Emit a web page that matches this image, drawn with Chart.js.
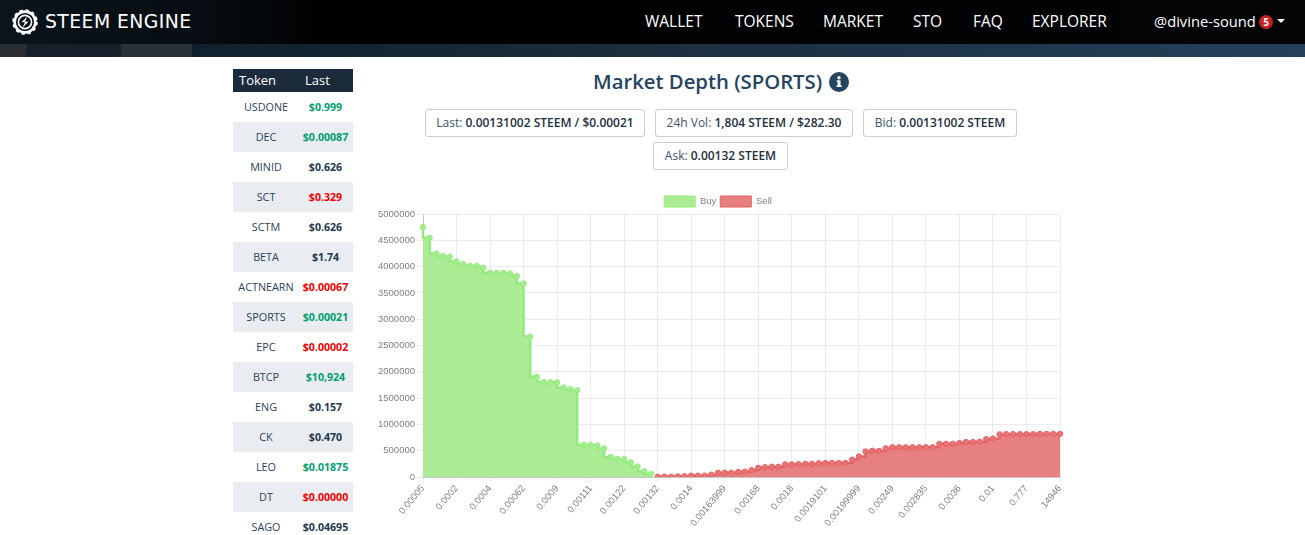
<!DOCTYPE html>
<html><head><meta charset="utf-8">
<script src="https://cdn.jsdelivr.net/npm/chart.js@4"></script>
<style>
html,body{margin:0;padding:0;background:#fff;width:1305px;height:535px;overflow:hidden;font-family:"Open Sans",sans-serif}
.abs{position:absolute;white-space:nowrap}
#hdrBand{position:absolute;left:0;top:44px;width:1305px;height:13px;background:linear-gradient(90deg,#0f1b24 0,#10202c 192px,#1a2e3e 640px,#24405a 1305px)}
#hdrBandL{position:absolute;left:0;top:44px;width:192px;height:13px;background:linear-gradient(90deg,#2a2e32 0,#2a2e32 26px,#15202a 27px,#15202a 120px,#2a3239 122px,#2a3239 192px)}
#hdr{position:absolute;left:0;top:0;width:1305px;height:44px;background:linear-gradient(90deg,#0a141b 0,#070d12 200px,#000 330px,#020406 1305px)}
.nav{position:absolute;top:11px;color:#fff;font-size:15.5px;line-height:20px;white-space:nowrap}
#brand{position:absolute;left:45px;top:9px;color:#fff;font:400 18.8px/26px "DejaVu Sans",sans-serif;letter-spacing:.45px}
#badge{position:absolute;left:1259px;top:15px;width:14px;height:14px;border-radius:7px;background:#c6201f;color:#fff;font-size:10px;font-weight:700;line-height:14px;text-align:center}
#caret{position:absolute;left:1277px;top:19px;width:0;height:0;border-left:4px solid transparent;border-right:4px solid transparent;border-top:4px solid #fff}
#side{position:absolute;left:233px;top:69px;width:120px}
#sideHead{height:23px;background:#1b2b3b;color:#fff;font-size:13px;line-height:23px;position:relative}
#sideHead span{position:absolute;top:0}
.row{height:30px;position:relative;line-height:30px}
.row .t{position:absolute;left:0;width:66px;text-align:center;color:#2c4258;font-size:10.8px}
.row .p{position:absolute;left:67px;width:51px;text-align:center;font-weight:700;font-size:10.6px}
#title{position:absolute;left:593px;top:66px;font-size:20.3px;line-height:30px;font-weight:600;color:#24445f;white-space:nowrap}
#info{position:absolute;left:829px;top:72px;width:20px;height:20px}
.pill{position:absolute;height:26px;border:1px solid #c9ced2;border-radius:3px;box-sizing:content-box;font-size:12px;line-height:26px;text-align:center;color:#3b5268;white-space:nowrap;background:#fff}
.pill b{font-weight:600;color:#22303c}
#cv{position:absolute;left:375px;top:190px}
</style></head>
<body>
<div id="hdrBand"></div><div id="hdrBandL"></div><div id="hdr"></div>
<svg class="abs" style="left:12px;top:9px" width="26" height="26" viewBox="0 0 26 26">
<circle cx="13" cy="13" r="10.4" fill="none" stroke="#fff" stroke-width="2.6"/>
<circle cx="13" cy="13" r="11.6" fill="none" stroke="#fff" stroke-width="2.4" stroke-dasharray="3.2 2.9"/>
<circle cx="13" cy="13" r="6.6" fill="none" stroke="#fff" stroke-width="1.6"/>
<path d="M15.5 7.5 L9.5 13 L13 13.2 L10.5 18.5 L16.5 12.8 L13 12.6 Z" fill="#fff"/>
</svg>
<div id="brand">STEEM ENGINE</div>
<div class="nav" style="left:645px">WALLET</div>
<div class="nav" style="left:735px">TOKENS</div>
<div class="nav" style="left:823px">MARKET</div>
<div class="nav" style="left:913px">STO</div>
<div class="nav" style="left:973px">FAQ</div>
<div class="nav" style="left:1032px">EXPLORER</div>
<div class="nav" style="left:1154px;font-size:14.7px">@divine-sound</div>
<div id="badge">5</div><div id="caret"></div>

<div id="side"><div id="sideHead"><span style="left:6px">Token</span><span style="left:72px">Last</span></div><div id="rows"></div></div>

<div id="title">Market Depth (SPORTS)</div>
<svg id="info" viewBox="0 0 20 20"><circle cx="10" cy="10" r="10" fill="#24445f"/><rect x="8.6" y="8.4" width="2.9" height="6" fill="#fff"/><rect x="7.6" y="13.4" width="5" height="1.6" fill="#fff"/><rect x="7.6" y="8.4" width="2" height="1.4" fill="#fff"/><circle cx="10" cy="5.8" r="1.7" fill="#fff"/></svg>
<div class="pill" style="left:425px;top:109px;width:218px">Last: <b>0.00131002 STEEM / $0.00021</b></div>
<div class="pill" style="left:655px;top:109px;width:196px">24h Vol: <b>1,804 STEEM / $282.30</b></div>
<div class="pill" style="left:863px;top:109px;width:152px">Bid: <b>0.00131002 STEEM</b></div>
<div class="pill" style="left:653px;top:142px;width:133px">Ask: <b>0.00132 STEEM</b></div>

<canvas id="cv" width="690" height="345" style="width:690px;height:345px"></canvas>

<script>
const tickLabels = ["0.00005","0.0002","0.0004","0.00062","0.0009","0.00111","0.00122","0.00132","0.0014","0.00163999","0.00168","0.0018","0.0019101","0.00199999","0.00249","0.002835","0.0036","0.01","0.777","14946"];
const buyDepth = [4750000,4550000,4250000,4200000,4190000,4100000,4050000,4010000,4010000,3980000,3885000,3880000,3880000,3870000,3820000,3680000,2670000,1905000,1805000,1800000,1800000,1700000,1670000,1650000,610000,610000,600000,545000,380000,345000,340000,280000,200000,110000,60000];
const sellDepth = [5000,5000,5000,10000,15000,25000,25000,25000,45000,80000,80000,80000,95000,100000,130000,175000,185000,195000,195000,240000,240000,245000,250000,250000,260000,265000,265000,265000,265000,330000,390000,485000,500000,495000,545000,565000,565000,565000,565000,565000,565000,565000,630000,630000,630000,645000,665000,665000,670000,720000,730000,810000,815000,815000,815000,815000,815000,820000,820000,820000,820000];
const tokens = ["USDONE","DEC","MINID","SCT","SCTM","BETA","ACTNEARN","SPORTS","EPC","BTCP","ENG","CK","LEO","DT","SAGO"];
const prices = ["$0.999","$0.00087","$0.626","$0.329","$0.626","$1.74","$0.00067","$0.00021","$0.00002","$10,924","$0.157","$0.470","$0.01875","$0.00000","$0.04695"];
const priceTones = ["up","up","flat","down","flat","flat","down","up","down","up","flat","flat","up","down","flat"];
const toneColors = {up:"#009e6c",down:"#f00000",flat:"#22384c"};

const rowsEl = document.getElementById('rows');
tokens.forEach((t,i)=>{
  const r=document.createElement('div');r.className='row';
  r.style.background = i%2===1 ? '#e9edf1' : '#fff';
  r.innerHTML='<span class="t">'+t+'</span><span class="p" style="color:'+toneColors[priceTones[i]]+'">'+prices[i]+'</span>';
  rowsEl.appendChild(r);
});

const perTick = 5;
const pointCount = buyDepth.length + sellDepth.length;
const categories = [];
for(let i=0;i<pointCount;i++) categories.push(i%perTick===0 ? tickLabels[i/perTick] : '');
const buySeries = categories.map((_,i)=> i<buyDepth.length ? buyDepth[i] : null);
const sellSeries = categories.map((_,i)=> i>=buyDepth.length ? sellDepth[i-buyDepth.length] : null);

const tickFont = {family:'"Liberation Sans",Arial,sans-serif',size:9.5};
const legendFit = {id:'legendFit',beforeLayout(chart){
  const lg=chart.legend;
  if(lg && !lg._fitPatched){
    const base=lg.fit;
    lg.fit=function(){base.call(this);this.height=22;this.bottom=this.top+22;};
    lg._fitPatched=true;
  }
}};
new Chart(document.getElementById('cv'),{
  type:'line',
  plugins:[legendFit],
  data:{labels:categories,datasets:[
    {label:'Buy',data:buySeries,stepped:'after',fill:'origin',backgroundColor:'rgba(168,235,146,.97)',borderColor:'rgba(144,236,120,1)',borderWidth:2.4,pointRadius:2.7,pointBackgroundColor:'rgba(165,236,145,1)',pointBorderColor:'rgba(150,236,125,1)',pointBorderWidth:1},
    {label:'Sell',data:sellSeries,stepped:'before',fill:'origin',backgroundColor:'rgba(230,124,124,.97)',borderColor:'rgba(228,96,100,1)',borderWidth:2.4,pointRadius:2.7,pointBackgroundColor:'rgba(234,116,116,1)',pointBorderColor:'rgba(228,100,102,1)',pointBorderWidth:1}
  ]},
  options:{
    responsive:false,animation:false,devicePixelRatio:1,
    layout:{padding:{left:0,right:4,top:2,bottom:0}},
    plugins:{tooltip:{enabled:false},
      legend:{position:'top',labels:{boxWidth:31,boxHeight:11,padding:4,color:'#808080',font:tickFont,
        generateLabels(chart){return Chart.defaults.plugins.legend.labels.generateLabels(chart).map(l=>({...l,lineWidth:1}));}}}},
    scales:{
      x:{offset:false,grid:{color:'rgba(0,0,0,.075)',tickLength:5},border:{color:'rgba(0,0,0,.16)'},
         afterFit(s){s.height=58;s.paddingLeft=0;s.paddingRight=0;},
         ticks:{autoSkip:true,maxTicksLimit:20,minRotation:50,maxRotation:50,color:'#808080',font:tickFont,padding:1}},
      y:{min:0,max:5000000,grid:{color:'rgba(0,0,0,.075)',tickLength:7},border:{color:'rgba(0,0,0,.16)'},
         afterFit(s){s.width=48;s.paddingTop=0;s.paddingBottom=0;},
         ticks:{stepSize:500000,color:'#808080',font:tickFont,padding:1,callback:v=>String(v)}}
    }
  }
});
</script>
</body></html>
